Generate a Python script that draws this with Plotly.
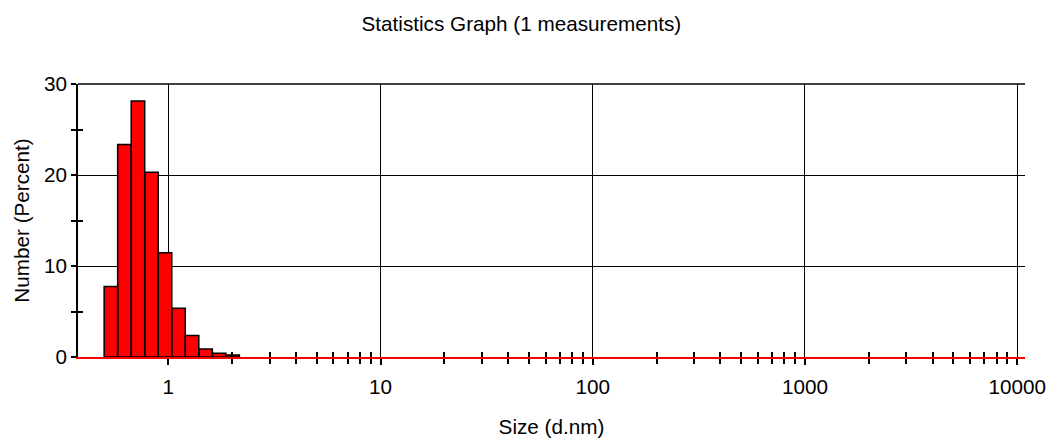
import math
import plotly.graph_objects as go

# Size distribution by number (single measurement)
sizes_nm = [0.5365, 0.6213, 0.7195, 0.8332, 0.9649, 1.117, 1.294, 1.499, 1.736, 2.010]
number_pct = [7.75, 23.36, 28.13, 20.31, 11.46, 5.36, 2.35, 0.88, 0.40, 0.22]

x_major = [1, 10, 100, 1000, 10000]
x_minor = [m * d for d in (1, 10, 100, 1000) for m in range(2, 10)]
y_major = [0, 10, 20, 30]
y_minor = [5, 15, 25]

FONT = "Liberation Sans, Arial, sans-serif"
FS = 20.7

# Bin edges: geometric midpoints between neighbouring size classes
ratio = sizes_nm[1] / sizes_nm[0]
half = math.sqrt(ratio)
xs, ys = [], []
for s, v in zip(sizes_nm, number_pct):
    lo, hi = s / half, s * half
    xs += [lo, lo, hi, hi, lo, None]
    ys += [0, v, v, 0, 0, None]

fig = go.Figure()
fig.add_trace(go.Scatter(
    x=xs, y=ys, mode="lines", fill="toself",
    fillcolor="#ff0000", line=dict(color="black", width=1.5),
    hoverinfo="skip", showlegend=False,
))
# carrier trace for the overlay axes that draw the inner half of the minor ticks
fig.add_trace(go.Scatter(x=[None], y=[None], xaxis="x2", yaxis="y2",
                         showlegend=False, hoverinfo="skip"))

xr = [-0.4255, 4.037]
yr = [0, 30]

fig.update_layout(
    width=1049, height=443,
    margin=dict(l=78, r=24, t=84, b=86),
    paper_bgcolor="white", plot_bgcolor="white",
    font=dict(family=FONT, size=FS, color="black"),
    title=dict(text="Statistics Graph (1 measurements)", x=0.497, xanchor="center",
               y=1 - 24 / 443, yanchor="middle", yref="container",
               font=dict(family=FONT, size=FS, color="black")),
    xaxis=dict(
        type="log", range=xr, automargin=False, tickmode="array", tickvals=x_major,
        ticktext=[str(v) for v in x_major],
        ticks="outside", ticklen=6, tickwidth=1.5, tickcolor="black",
        ticklabelstandoff=4,
        showgrid=True, gridcolor="black", gridwidth=1.2,
        showline=True, linecolor="#ff0000", linewidth=1.5, mirror=False,
        zeroline=False,
        minor=dict(tickmode="array", tickvals=x_minor, ticks="outside",
                   ticklen=5, tickwidth=1.5, tickcolor="black", showgrid=False),
        title=dict(text="Size (d.nm)", standoff=23,
                   font=dict(family=FONT, size=FS)),
        tickfont=dict(family=FONT, size=FS),
    ),
    yaxis=dict(
        range=yr, automargin=False, tickmode="array", tickvals=y_major,
        ticks="outside", ticklen=5, tickwidth=1.5, tickcolor="black",
        showgrid=True, gridcolor="black", gridwidth=1.2,
        showline=True, linecolor="black", linewidth=1.5, mirror=False,
        zeroline=False,
        minor=dict(tickmode="array", tickvals=y_minor, ticks="outside",
                   ticklen=5, tickwidth=1.5, tickcolor="black", showgrid=False),
        title=dict(text="Number (Percent)", standoff=9,
                   font=dict(family=FONT, size=FS)),
        tickfont=dict(family=FONT, size=FS),
    ),
    xaxis2=dict(
        type="log", range=xr, overlaying="x", anchor="y", side="bottom",
        automargin=False,
        showgrid=False, showline=False, zeroline=False, showticklabels=False,
        tickmode="array", tickvals=[], ticks="",
        minor=dict(tickmode="array", tickvals=x_minor, ticks="inside",
                   ticklen=5, tickwidth=1.5, tickcolor="black", showgrid=False),
    ),
    yaxis2=dict(
        range=yr, overlaying="y", anchor="x", side="left", automargin=False,
        showgrid=False, showline=False, zeroline=False, showticklabels=False,
        tickmode="array", tickvals=[], ticks="",
        minor=dict(tickmode="array", tickvals=y_minor, ticks="inside",
                   ticklen=5, tickwidth=1.5, tickcolor="black", showgrid=False),
    ),
    shapes=[dict(type="line", xref="paper", yref="paper", x0=0, x1=1, y0=1, y1=1,
                 line=dict(color="black", width=1.5))],
)

fig.write_html("out.html")
